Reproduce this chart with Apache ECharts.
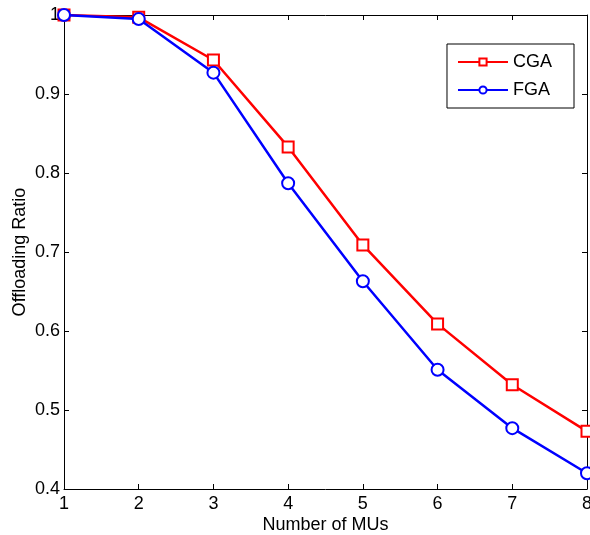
<!DOCTYPE html>
<html><head><meta charset="utf-8">
<script src="https://cdn.jsdelivr.net/npm/echarts@6/dist/echarts.min.js"></script>
<style>html,body{margin:0;padding:0;background:#fff}#c{width:590px;height:535px}</style>
</head><body><div id="c"></div>
<script>
const muCounts = [1, 2, 3, 4, 5, 6, 7, 8];
const cgaRatio = [1.0, 0.997, 0.943, 0.833, 0.709, 0.609, 0.532, 0.473];
const fgaRatio = [1.0, 0.995, 0.927, 0.787, 0.663, 0.551, 0.477, 0.420];
const seriesNames = ['CGA', 'FGA'];
const xLabel = 'Number of MUs';
const yLabel = 'Offloading Ratio';

const font = 'Liberation Sans, Arial, Helvetica, sans-serif';
const chart = echarts.init(document.getElementById('c'), null, {renderer: 'canvas'});
const axisCommon = {
  axisLine: {show: true, lineStyle: {color: '#000', width: 1}},
  axisTick: {show: true, inside: true, length: 5, lineStyle: {color: '#000'}},
  splitLine: {show: false}
};
chart.setOption({
  animation: false,
  backgroundColor: '#fff',
  grid: {left: 64, right: 3, top: 15, bottom: 46, outerBoundsMode: 'none', containLabel: false},
  legend: {
    orient: 'vertical', right: 16, top: 44,
    borderColor: '#000', borderWidth: 1, padding: [9, 22, 9, 10],
    itemWidth: 50, itemHeight: 9, itemGap: 10,
    textStyle: {fontFamily: font, fontSize: 18, color: '#000'},
    data: seriesNames
  },
  xAxis: [
    Object.assign({type: 'value', min: 1, max: 8, interval: 1, position: 'bottom',
      name: xLabel, nameLocation: 'middle', nameGap: 27, nameMoveOverlap: false,
      nameTextStyle: {fontFamily: font, fontSize: 18, color: '#000'},
      axisLabel: {fontFamily: font, fontSize: 18, color: '#000', margin: 6}}, axisCommon),
    Object.assign({type: 'value', min: 1, max: 8, interval: 1, position: 'top',
      axisLabel: {show: false}}, axisCommon)
  ],
  yAxis: [
    Object.assign({type: 'value', min: 0.4, max: 1.0, interval: 0.1, position: 'left',
      name: yLabel, nameLocation: 'middle', nameGap: 35, nameMoveOverlap: false,
      nameTextStyle: {fontFamily: font, fontSize: 18, color: '#000'},
      axisLabel: {fontFamily: font, fontSize: 18, color: '#000', margin: 4,
        formatter: v => (Math.abs(v - 1) < 1e-9 ? '1' : v.toFixed(1))}}, axisCommon),
    Object.assign({type: 'value', min: 0.4, max: 1.0, interval: 0.1, position: 'right',
      axisLabel: {show: false}}, axisCommon)
  ],
  series: [
    {name: seriesNames[0], type: 'line', data: muCounts.map((x, i) => [x, cgaRatio[i]]),
      symbol: 'emptyRect', symbolSize: 11, showAllSymbol: true,
      lineStyle: {color: '#ff0000', width: 2.5},
      itemStyle: {color: '#ff0000', borderWidth: 2.2}, z: 2},
    {name: seriesNames[1], type: 'line', data: muCounts.map((x, i) => [x, fgaRatio[i]]),
      symbol: 'emptyCircle', symbolSize: 12, showAllSymbol: true,
      lineStyle: {color: '#0000ff', width: 2.5},
      itemStyle: {color: '#0000ff', borderWidth: 2.2}, z: 3}
  ]
});
</script></body></html>
